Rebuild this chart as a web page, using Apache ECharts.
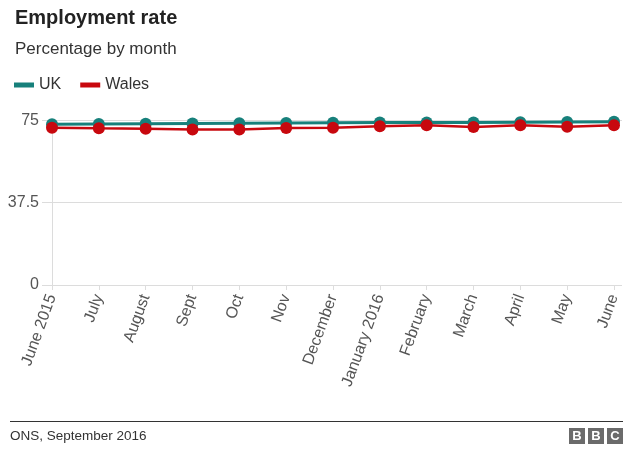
<!DOCTYPE html>
<html><head><meta charset="utf-8">
<script src="https://cdn.jsdelivr.net/npm/echarts@6/dist/echarts.min.js"></script>
<style>html,body{margin:0;padding:0;background:#fff}#c{width:640px;height:459px}</style>
</head><body><div id="c"></div>
<script>
const months = ['June 2015','July','August','Sept','Oct','Nov','December','January 2016','February','March','April','May','June'];
const ukValues = [73.3, 73.4, 73.5, 73.6, 73.7, 73.8, 73.9, 74.0, 74.0, 74.1, 74.2, 74.3, 74.4];
const walesValues = [71.7, 71.4, 71.2, 70.8, 70.8, 71.5, 71.7, 72.3, 72.8, 72.0, 72.8, 72.1, 72.8];
const yMin = 0, yMax = 75, yStep = 37.5;
const seriesNames = ['UK', 'Wales'];
const colors = ['#17807b', '#c8080e'];

const chart = echarts.init(document.getElementById('c'), null, {renderer: 'canvas'});
const FONT = 'Liberation Sans, Arial, Helvetica, sans-serif';
const gridTop = 120.4, gridBottom = 174;

chart.setOption({
  animation: false,
  backgroundColor: '#fff',
  textStyle: {fontFamily: FONT},
  title: [
    {text: 'Employment rate', left: 10, top: 3, textStyle: {fontFamily: FONT, fontSize: 20, fontWeight: 'bold', color: '#222'}},
    {text: 'Percentage by month', left: 10, top: 36, textStyle: {fontFamily: FONT, fontSize: 17, fontWeight: 'normal', color: '#333'}}
  ],
  legend: {
    data: seriesNames, left: 9, top: 72, icon: 'rect', itemWidth: 20, itemHeight: 5, itemGap: 19,
    textStyle: {fontFamily: FONT, fontSize: 16, color: '#333'}
  },
  grid: [
    {left: 42, right: 18, top: gridTop, bottom: gridBottom},
    {left: 52, right: 26, top: gridTop, bottom: gridBottom}
  ],
  xAxis: [
    {gridIndex: 0, type: 'value', min: 0, max: 1, show: false},
    {gridIndex: 1, type: 'category', data: months, boundaryGap: false,
     axisLine: {show: false}, axisTick: {show: true, length: 5, lineStyle: {color: '#ddd'}},
     axisLabel: {rotate: 70, fontSize: 16, color: '#555', margin: 10, interval: 0, fontFamily: FONT}}
  ],
  yAxis: [
    {gridIndex: 0, type: 'value', min: yMin, max: yMax, interval: yStep,
     axisLine: {show: false}, axisTick: {show: false},
     splitLine: {lineStyle: {color: '#dcdcdc', width: 1}},
     axisLabel: {fontSize: 16, color: '#555', margin: 3, fontFamily: FONT}},
    {gridIndex: 1, type: 'value', min: yMin, max: yMax, interval: yStep,
     axisLine: {show: true, lineStyle: {color: '#dcdcdc'}}, axisTick: {show: false},
     splitLine: {show: false}, axisLabel: {show: false}}
  ],
  series: [
    {name: seriesNames[0], type: 'line', xAxisIndex: 1, yAxisIndex: 1, data: ukValues,
     color: colors[0], symbol: 'circle', symbolSize: 12, lineStyle: {width: 3, color: colors[0]},
     itemStyle: {color: colors[0]}},
    {name: seriesNames[1], type: 'line', xAxisIndex: 1, yAxisIndex: 1, data: walesValues,
     color: colors[1], symbol: 'circle', symbolSize: 12, lineStyle: {width: 2.5, color: colors[1]},
     itemStyle: {color: colors[1]}}
  ],
  graphic: [
    {type: 'line', shape: {x1: 10, y1: 421.5, x2: 623, y2: 421.5}, style: {stroke: '#333', lineWidth: 1.2}},
    {type: 'text', left: 10, top: 429, style: {text: 'ONS, September 2016', font: '13.5px ' + FONT, fill: '#333'}},
    {type: 'rect', shape: {x: 569, y: 428, width: 16, height: 16}, style: {fill: '#6b6b6b'}},
    {type: 'rect', shape: {x: 588, y: 428, width: 16, height: 16}, style: {fill: '#6b6b6b'}},
    {type: 'rect', shape: {x: 607, y: 428, width: 16, height: 16}, style: {fill: '#6b6b6b'}},
    {type: 'text', x: 577, y: 436.5, style: {text: 'B', font: 'bold 13px ' + FONT, fill: '#fff', align: 'center', verticalAlign: 'middle'}},
    {type: 'text', x: 596, y: 436.5, style: {text: 'B', font: 'bold 13px ' + FONT, fill: '#fff', align: 'center', verticalAlign: 'middle'}},
    {type: 'text', x: 615, y: 436.5, style: {text: 'C', font: 'bold 13px ' + FONT, fill: '#fff', align: 'center', verticalAlign: 'middle'}}
  ]
});
</script>
</body></html>
